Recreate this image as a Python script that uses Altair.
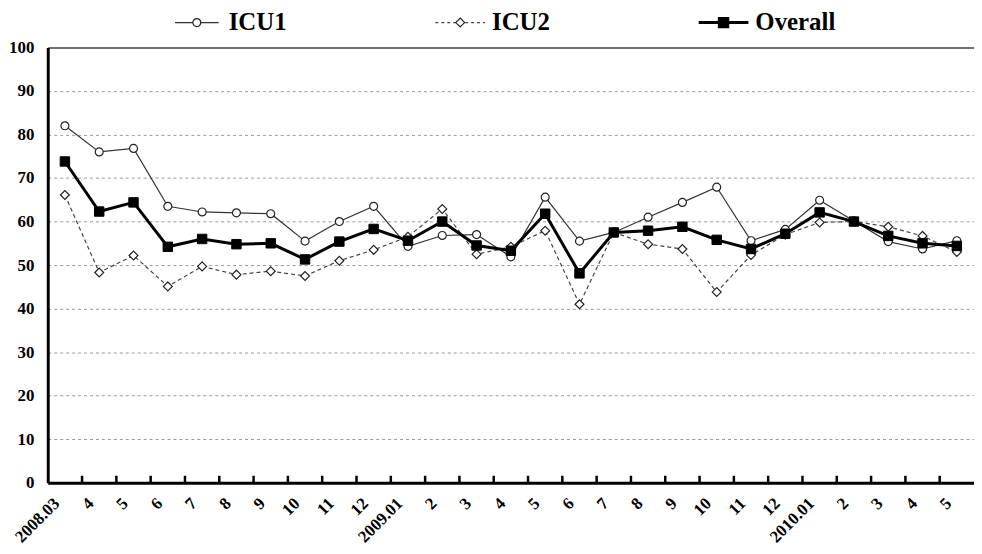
import altair as alt
import pandas as pd

# ---- data ----
months = ["2008.03", "2008.04", "2008.05", "2008.06", "2008.07", "2008.08", "2008.09",
          "2008.10", "2008.11", "2008.12", "2009.01", "2009.02", "2009.03", "2009.04",
          "2009.05", "2009.06", "2009.07", "2009.08", "2009.09", "2009.10", "2009.11",
          "2009.12", "2010.01", "2010.02", "2010.03", "2010.04", "2010.05"]
tick_labels = ["2008.03", "4", "5", "6", "7", "8", "9", "10", "11", "12",
               "2009.01", "2", "3", "4", "5", "6", "7", "8", "9", "10", "11", "12",
               "2010.01", "2", "3", "4", "5"]
series_names = ["ICU1", "ICU2", "Overall"]
icu1 = [82.0, 76.0, 76.8, 63.5, 62.2, 62.0, 61.8, 55.5, 60.0, 63.5, 54.3, 56.8, 57.0, 51.9,
        65.6, 55.5, 57.5, 61.0, 64.4, 67.9, 55.6, 58.2, 64.9, 60.1, 55.4, 53.7, 55.6]
icu2 = [66.1, 48.3, 52.2, 45.1, 49.7, 47.8, 48.6, 47.5, 51.0, 53.5, 56.5, 62.9, 52.5, 54.2,
        57.9, 41.0, 57.5, 54.8, 53.7, 43.8, 52.3, 57.0, 59.8, 60.0, 58.8, 56.7, 53.0]
overall = [73.8, 62.3, 64.4, 54.2, 56.0, 54.8, 55.0, 51.3, 55.4, 58.3, 55.6, 60.0, 54.5, 53.3,
           61.8, 48.1, 57.5, 57.9, 58.8, 55.8, 53.7, 57.2, 62.1, 60.0, 56.7, 55.0, 54.4]

rows = []
for name, vals in zip(series_names, [icu1, icu2, overall]):
    for m, v in zip(months, vals):
        rows.append({"month": m, "series": name, "value": v})
df = pd.DataFrame(rows)
ticks_df = pd.DataFrame({"month": months[1:]})
legend_df = pd.DataFrame({"series": series_names})

FONT = "Liberation Serif"
W, H = 932, 438

keys_js = "[" + ",".join("'%s'" % k for k in months) + "]"
labs_js = "[" + ",".join("'%s'" % l for l in tick_labels) + "]"
label_expr = "%s[indexof(%s, datum.value)]" % (labs_js, keys_js)

x_enc = alt.X(
    "month:N",
    sort=months,
    bandPosition=0.5,
    scale=alt.Scale(type="band", domain=months, paddingInner=0, paddingOuter=0),
    axis=alt.Axis(
        title=None, ticks=False, grid=False, domain=True, domainColor="black",
        domainWidth=3, labelAngle=315, labelAlign="right", labelBaseline="middle",
        labelOffset=-8, labelPadding=18, labelFont=FONT, labelFontSize=17,
        labelFontWeight="bold", labelColor="black", labelExpr=label_expr,
    ),
)
y_enc = alt.Y(
    "value:Q",
    scale=alt.Scale(domain=[0, 100], nice=False),
    axis=alt.Axis(
        title=None, values=list(range(0, 101, 10)), ticks=False, domain=True,
        domainColor="black", domainWidth=3, grid=True,
        gridDash={"condition": {"test": "datum.value == 100", "value": [1, 0]}, "value": [3, 3]},
        gridColor={"condition": {"test": "datum.value == 100", "value": "#444"}, "value": "#999"},
        gridWidth={"condition": {"test": "datum.value == 100", "value": 1.6}, "value": 1},
        labelFont=FONT, labelFontSize=17, labelFontWeight="bold", labelColor="black",
        labelPadding=14,
    ),
)

base = alt.Chart(df)


def only(name):
    return base.transform_filter(alt.datum.series == name)


line2 = only("ICU2").mark_line(color="#444", strokeWidth=1.2, strokeDash=[4, 3]).encode(x=x_enc, y=y_enc)
line1 = only("ICU1").mark_line(color="#333", strokeWidth=1.2).encode(x=x_enc, y=y_enc)
line3 = only("Overall").mark_line(color="black", strokeWidth=3).encode(x=x_enc, y=y_enc)
pt2 = only("ICU2").mark_point(shape="diamond", filled=True, fill="white", stroke="#222",
                              strokeWidth=1.2, size=80, opacity=1).encode(x=x_enc, y=y_enc)
pt1 = only("ICU1").mark_point(shape="circle", filled=True, fill="white", stroke="#222",
                              strokeWidth=1.2, size=64, opacity=1).encode(x=x_enc, y=y_enc)
pt3 = only("Overall").mark_point(shape="square", filled=True, fill="black", stroke="black",
                                 strokeWidth=1, size=90, opacity=1).encode(x=x_enc, y=y_enc)

ticks = alt.Chart(ticks_df).mark_rule(color="black", strokeWidth=2.5).encode(
    x=alt.X("month:N", sort=months, bandPosition=0,
            scale=alt.Scale(type="band", domain=months, paddingInner=0, paddingOuter=0)),
    y=alt.value(H), y2=alt.value(H - 7),
)

main = alt.layer(line2, line1, line3, pt2, pt1, pt3, ticks)

# ---- legend above the plot ----
lx = alt.X("series:N", scale=alt.Scale(type="point", domain=series_names, range=[150, 680], padding=0),
           axis=None)
LY = -25
leg = alt.Chart(legend_df)


def lonly(name):
    return leg.transform_filter(alt.datum.series == name)


leg_layers = [
    lonly("ICU1").mark_point(shape="stroke", filled=False, size=1936, color="#333", strokeWidth=1.2,
                             opacity=1).encode(x=lx, y=alt.value(LY)),
    lonly("ICU2").mark_point(shape="stroke", filled=False, size=2500, color="#444", strokeWidth=1.2,
                             strokeDash=[3, 3], opacity=1).encode(x=lx, y=alt.value(LY)),
    lonly("Overall").mark_point(shape="stroke", filled=False, size=2500, color="black", strokeWidth=3,
                                opacity=1).encode(x=lx, y=alt.value(LY)),
    lonly("ICU1").mark_point(shape="circle", filled=True, fill="white", stroke="#222", strokeWidth=1.2,
                             size=64, opacity=1).encode(x=lx, y=alt.value(LY)),
    lonly("ICU2").mark_point(shape="diamond", filled=True, fill="white", stroke="#222", strokeWidth=1.2,
                             size=80, opacity=1).encode(x=lx, y=alt.value(LY)),
    lonly("Overall").mark_point(shape="square", filled=True, fill="black", stroke="black",
                                size=90, opacity=1).encode(x=lx, y=alt.value(LY)),
    leg.mark_text(align="left", baseline="middle", dx=32, font=FONT, fontSize=25,
                  fontWeight="bold", color="black").encode(x=lx, y=alt.value(LY - 1), text="series:N"),
]
legend = alt.layer(*leg_layers)

chart = (
    alt.layer(main, legend)
    .resolve_scale(x="independent")
    .properties(width=W, height=H, padding={"left": 0, "top": 0, "right": 0, "bottom": 0},
                background="white")
    .configure_view(strokeOpacity=0)
)

chart.save("out.html", embed_options={"renderer": "svg", "actions": False})
